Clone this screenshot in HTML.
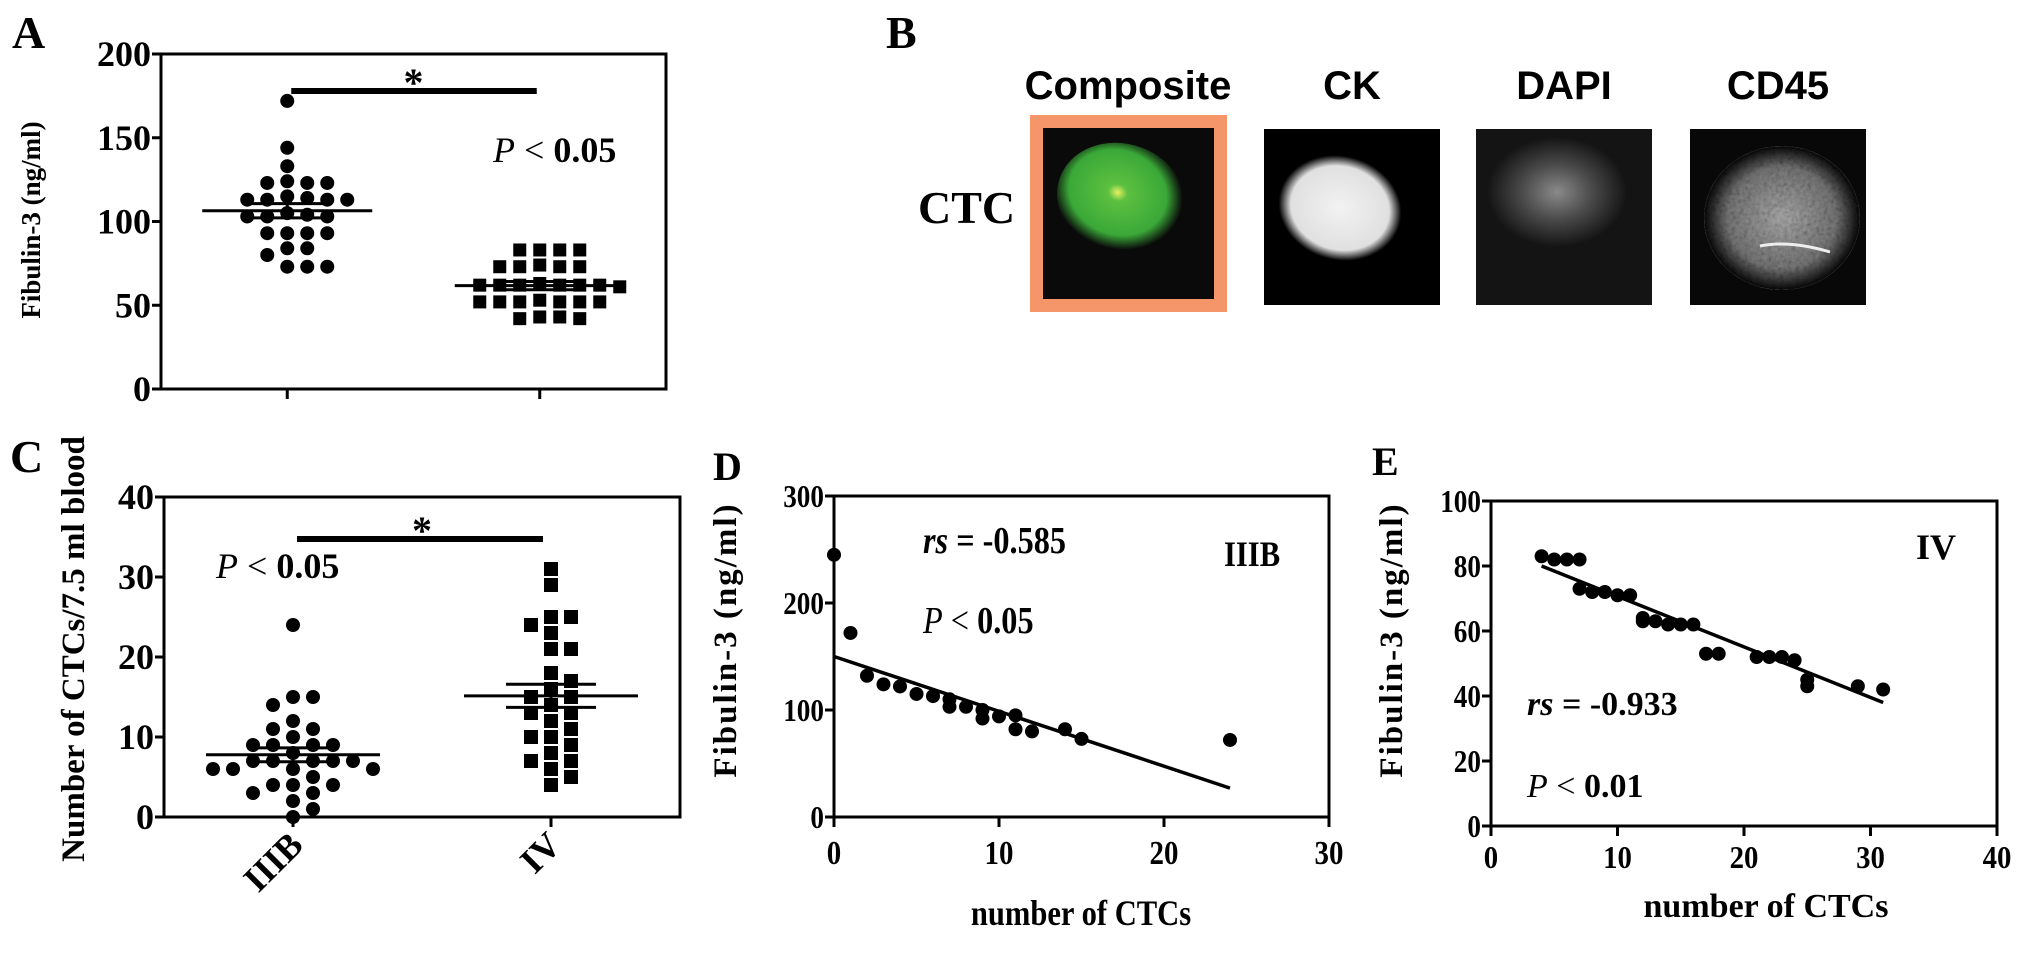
<!DOCTYPE html>
<html><head><meta charset="utf-8"><style>
html,body{margin:0;padding:0;background:#fff;}
svg{display:block;}
.t{font-family:"Liberation Serif",serif;font-weight:bold;fill:#000;}
.s{font-family:"Liberation Sans",sans-serif;font-weight:bold;fill:#000;}
</style></head><body>
<svg id="fig" width="2031" height="958" viewBox="0 0 2031 958" xmlns="http://www.w3.org/2000/svg">
<defs>
<radialGradient id="gGreen" cx="0.45" cy="0.45" r="0.5"><stop offset="0" stop-color="#e8f060"/><stop offset="0.15" stop-color="#5cc040"/><stop offset="0.75" stop-color="#3aa838"/><stop offset="1" stop-color="#0a0a0a"/></radialGradient>
<radialGradient id="gCK" cx="0.5" cy="0.5" r="0.5"><stop offset="0" stop-color="#f2f2f2"/><stop offset="0.8" stop-color="#e0e0e0"/><stop offset="1" stop-color="#000"/></radialGradient>
<radialGradient id="gDAPI" cx="0.5" cy="0.5" r="0.5"><stop offset="0" stop-color="#8a8a8a"/><stop offset="0.5" stop-color="#4a4a4a"/><stop offset="1" stop-color="#141414"/></radialGradient>
<radialGradient id="gCD" cx="0.5" cy="0.5" r="0.5"><stop offset="0" stop-color="#b0b0b0"/><stop offset="0.7" stop-color="#7a7a7a"/><stop offset="1" stop-color="#080808"/></radialGradient>
<filter id="noise"><feTurbulence type="fractalNoise" baseFrequency="0.25" numOctaves="2" result="n"/><feColorMatrix in="n" type="saturate" values="0" result="g"/><feComposite in="g" in2="SourceGraphic" operator="in" result="m"/><feBlend in="SourceGraphic" in2="m" mode="multiply"/></filter>
</defs>
<g id="layer"></g>
</svg>
<script>
// ---------- data ----------
const catsAC = ["IIIB","IV"];
const aIIIB = [172,144,133,124,123,123,123,115,114,113,113,113,113,105,104,103,103,103,93,93,93,93,84,84,80,73,73,73];
const aIV = [83,83,83,83,73,74,73,73,73,62,62,62,62,62,62,63,61,52,52,52,52,52,53,52,43,42,43,42];
const cIIIB = [24,15,15,14,12,11,11,10,9,9,9,9,8,7,7,7,7,7,6,6,6,6,5,4,4,4,3,3,2,1,0];
const cIV = [31,29,25,25,24,23,21,21,18,17,16,15,15,14,13,13,12,11,10,10,9,8,7,7,6,5,4];
const dX = [0,1,2,3,4,5,6,7,7,8,9,9,10,11,11,12,14,15,24];
const dY = [245,172,132,124,122,115,113,110,103,103,100,92,94,95,82,80,82,73,72];
const dLine = [[0,150],[24,27]];
const eX = [4,5,6,7,7,8,9,10,11,12,12,13,14,15,16,17,18,21,22,23,24,25,25,29,31];
const eY = [83,82,82,82,73,72,72,71,71,64,63,63,62,62,62,53,53,52,52,52,51,45,43,43,42];
const eLine = [[4,80],[31,38]];
const ticksA = [0,50,100,150,200];
const ticksC = [0,10,20,30,40];
const ticksDy = [0,100,200,300];
const ticksDx = [0,10,20,30];
const ticksEy = [0,20,40,60,80,100];
const ticksEx = [0,10,20,30,40];

// ---------- scales ----------
const A = {l:161,r:666,t:54,b:389,max:200};
const C = {l:164,r:680,t:497,b:817,max:40};
const xA = i => A.l + (A.r-A.l)*(0.25+0.5*i);
const yA = v => A.b - v/A.max*(A.b-A.t);
const xC = i => C.l + (C.r-C.l)*(0.25+0.5*i);
const yC = v => C.b - v/C.max*(C.b-C.t);
const D = {l:834,r:1329,t:496,b:817};
const xD = v => D.l + v/30*(D.r-D.l);
const yD = v => D.b - v/300*(D.b-D.t);
const E = {l:1491,r:1997,t:501,b:826};
const xE = v => E.l + v/40*(E.r-E.l);
const yE = v => E.b - v/100*(E.b-E.t);

const NS="http://www.w3.org/2000/svg";
const layer=document.getElementById('layer');
function mk(tag,attrs,parent){const e=document.createElementNS(NS,tag);for(const k in attrs)e.setAttribute(k,attrs[k]);(parent||layer).appendChild(e);return e;}
function txt(s,x,y,cls,size,anchor,extra){const e=mk('text',Object.assign({x:x,y:y,class:cls,'font-size':size,'text-anchor':anchor||'start'},extra||{}));e.textContent=s;return e;}
function line(x1,y1,x2,y2,w){return mk('line',{x1:x1,y1:y1,x2:x2,y2:y2,stroke:'#000','stroke-width':w||3});}

function swarm(vals,cx,ys,d,step){
  const pts=[];const sorted=vals.slice().sort((a,b)=>b-a);
  sorted.forEach(v=>{const y=ys(v);
    for(let k=0;k<40;k++){const off=(k%2?1:-1)*Math.ceil(k/2)*step; const x=cx+(k===0?0:off);
      if(pts.every(p=>Math.hypot(p.x-x,p.y-y)>=d)){pts.push({x:x,y:y,v:v});break;}}
  });return pts;}
function meanSem(v){const m=v.reduce((a,b)=>a+b,0)/v.length;const sd=Math.sqrt(v.reduce((a,b)=>a+(b-m)*(b-m),0)/(v.length-1));return [m,sd/Math.sqrt(v.length)];}

function boxAxes(P,name){
  const g=mk('g',{});
  
  
  mk('rect',{x:P.l,y:P.t,width:P.r-P.l,height:P.b-P.t,fill:'none',stroke:'#000','stroke-width':3},g);
}

// ---------- Panel A ----------
txt('A',12,48,'t',46);
boxAxes(A,'panel-a');
ticksA.forEach(v=>{const y=yA(v);const t=line(A.l-9,y,A.l,y,3);
  const l=txt(String(v),A.l-10,y+12,'t',36,'end');});
[0,1].forEach(i=>{const t=line(xA(i),A.b,xA(i),A.b+10,3);});
{const l=txt('Fibulin-3 (ng/ml)',0,0,'t',27,'middle',{transform:'translate(40,220) rotate(-90)'});}
swarm(aIIIB,xA(0),yA,14.5,20).forEach(p=>{const c=mk('circle',{cx:p.x,cy:p.y,r:7,fill:'#000'});});
swarm(aIV,xA(1),yA,14.5,20).forEach(p=>{const c=mk('rect',{x:p.x-6.5,y:p.y-6.5,width:13,height:13,fill:'#000'});});
[[aIIIB,0],[aIV,1]].forEach(([v,i])=>{const [m,s]=meanSem(v);const cx=xA(i);
  const ml=line(cx-85,yA(m),cx+85,yA(m),3);
  line(cx-40,yA(m+s),cx+40,yA(m+s),3);line(cx-40,yA(m-s),cx+40,yA(m-s),3);line(cx,yA(m-s),cx,yA(m+s),3);});
{const b=line(xA(0)+4,91,xA(1)-3,91,6);
 const s=txt('*',xA(0.5),96,'t',40,'middle');
 const p=txt('',493,162,'t',36);
 p.innerHTML='<tspan font-style="italic" font-weight="normal">P</tspan><tspan font-weight="normal"> &lt; </tspan>0.05';}

// ---------- Panel B ----------
txt('B',886,48,'t',46);
txt('CTC',918,223,'t',46);
const bHeads=[['Composite',1128],['CK',1352],['DAPI',1564],['CD45',1778]];
bHeads.forEach(h=>{const t=txt(h[0],h[1],99,'s',40,'middle');});
{const g=mk('g',{});
 mk('rect',{x:1030,y:115,width:197,height:197,fill:'#f4956a'},g);
 mk('rect',{x:1043,y:128,width:171,height:171,fill:'#0a0a0a'},g);
 mk('ellipse',{cx:1122,cy:200,rx:66,ry:56,fill:'url(#gGreen)',transform:'rotate(20 1122 200)'},g);}
{const g=mk('g',{});
 mk('rect',{x:1264,y:129,width:176,height:176,fill:'#000'},g);
 mk('ellipse',{cx:1340,cy:208,rx:62,ry:52,fill:'url(#gCK)',transform:'rotate(15 1340 208)'},g);}
{const g=mk('g',{});
 mk('rect',{x:1476,y:129,width:176,height:176,fill:'#141414'},g);
 mk('ellipse',{cx:1557,cy:192,rx:70,ry:55,fill:'url(#gDAPI)'},g);}
{const g=mk('g',{});
 mk('rect',{x:1690,y:129,width:176,height:176,fill:'#080808'},g);
 mk('ellipse',{cx:1782,cy:218,rx:78,ry:72,fill:'url(#gCD)',filter:'url(#noise)'},g);
 mk('path',{d:'M1760 246 Q1790 240 1830 252',stroke:'#eee','stroke-width':3,fill:'none'},g);}

// ---------- Panel C ----------
txt('C',10,472,'t',46);
boxAxes(C,'panel-c');
ticksC.forEach(v=>{const y=yC(v);const t=line(C.l-9,y,C.l,y,3);
  const l=txt(String(v),C.l-10,y+12,'t',36,'end');});
catsAC.forEach((c,i)=>{const x=xC(i);const t=line(x,C.b,x,C.b+10,3);
  const l=txt(c,x+12,C.b+30,'t',36,'end',{transform:`rotate(-45 ${x+12} ${C.b+30})`});});
{const l=txt('Number of CTCs/7.5 ml blood',0,0,'t',33,'middle',{transform:'translate(84,649) rotate(-90)'});}
swarm(cIIIB,xC(0),yC,14.5,20).forEach(p=>{const c=mk('circle',{cx:p.x,cy:p.y,r:7,fill:'#000'});});
swarm(cIV,xC(1),yC,14.5,20).forEach(p=>{const c=mk('rect',{x:p.x-7,y:p.y-7,width:14,height:14,fill:'#000'});});
[[cIIIB,0],[cIV,1]].forEach(([v,i])=>{const [m,s]=meanSem(v);const cx=xC(i);
  const ml=line(cx-87,yC(m),cx+87,yC(m),3);
  line(cx-45,yC(m+s),cx+45,yC(m+s),3);line(cx-45,yC(m-s),cx+45,yC(m-s),3);line(cx,yC(m-s),cx,yC(m+s),3);});
{const b=line(xC(0)+4,539,xC(1)-8,539,6);
 const s=txt('*',xC(0.5),544,'t',40,'middle');
 const p=txt('',216,578,'t',36);
 p.innerHTML='<tspan font-style="italic" font-weight="normal">P</tspan><tspan font-weight="normal"> &lt; </tspan>0.05';}

// ---------- Panel D ----------
txt('D',713,480,'t',40);
boxAxes(D,'panel-d');
ticksDy.forEach(v=>{const y=yD(v);const t=line(D.l-9,y,D.l,y,3);
  const l=txt(String(v),D.l-10,y+11,'t',32,'end',{transform:`scale(0.85 1)`,x:(D.l-10)/0.85});});
ticksDx.forEach(v=>{const x=xD(v);const t=line(x,D.b,x,D.b+10,3);
  const l=txt(String(v),x/0.85,864,'t',34,'middle',{transform:'scale(0.85 1)'});});
{const l=txt('Fibulin-3 (ng/ml)',0,0,'t',33,'middle',{transform:'translate(736,640) rotate(-90)','letter-spacing':'2'});
 const x=txt('number of CTCs',1081/0.85,925,'t',36,'middle',{transform:'scale(0.85 1)'});
 const rs=txt('',923/0.85,553,'t',38,'start',{transform:'scale(0.85 1)'});
 rs.innerHTML='<tspan font-style="italic">rs</tspan> = -0.585';
 const p=txt('',923/0.85,633,'t',38,'start',{transform:'scale(0.85 1)'});
 p.innerHTML='<tspan font-style="italic" font-weight="normal">P</tspan><tspan font-weight="normal"> &lt; </tspan>0.05';
 const g=txt('IIIB',1224/0.85,566,'t',36,'start',{transform:'scale(0.85 1)'});}
dX.forEach((v,i)=>{const c=mk('circle',{cx:xD(v),cy:yD(dY[i]),r:7,fill:'#000'});});
{const f=line(xD(dLine[0][0]),yD(dLine[0][1]),xD(dLine[1][0]),yD(dLine[1][1]),3.5);}

// ---------- Panel E ----------
txt('E',1372,475,'t',40);
boxAxes(E,'panel-e');
ticksEy.forEach(v=>{const y=yE(v);const t=line(E.l-9,y,E.l,y,3);
  const l=txt(String(v),(E.l-10)/0.85,y+11,'t',32,'end',{transform:'scale(0.85 1)'});});
ticksEx.forEach(v=>{const x=xE(v);const t=line(x,E.b,x,E.b+10,3);
  const l=txt(String(v),x/0.9,868,'t',32,'middle',{transform:'scale(0.9 1)'});});
{const l=txt('Fibulin-3 (ng/ml)',0,0,'t',33,'middle',{transform:'translate(1402,640) rotate(-90)','letter-spacing':'2'});
 const x=txt('number of CTCs',1766,917,'t',34,'middle');
 const rs=txt('',1527,715,'t',34);
 rs.innerHTML='<tspan font-style="italic">rs</tspan> = -0.933';
 const p=txt('',1527,797,'t',34);
 p.innerHTML='<tspan font-style="italic" font-weight="normal">P</tspan><tspan font-weight="normal"> &lt; </tspan>0.01';
 const g=txt('IV',1916,559,'t',36);}
eX.forEach((v,i)=>{const c=mk('circle',{cx:xE(v),cy:yE(eY[i]),r:7,fill:'#000'});});
{const f=line(xE(eLine[0][0]),yE(eLine[0][1]),xE(eLine[1][0]),yE(eLine[1][1]),3.5);}
</script>
</body></html>
